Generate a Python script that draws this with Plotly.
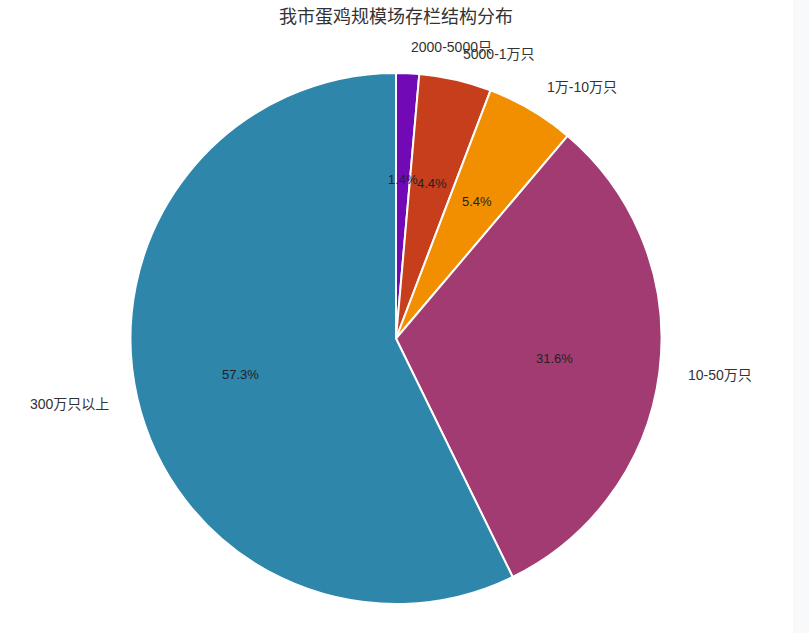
import math
import plotly.graph_objects as go

# Layer-farm stock structure (share of total, %), listed clockwise from 12 o'clock
labels = ["2000-5000只", "5000-1万只", "1万-10万只", "10-50万只", "300万只以上"]
shares = [1.4, 4.4, 5.4, 31.6, 57.3]
colors = ["#7209B7", "#C73E1D", "#F18F01", "#A23B72", "#2E86AB"]
title_text = "我市蛋鸡规模场存栏结构分布"

W, H = 809, 633
CX, CY, R = 396.0, 338.5, 265.5   # pie centre / radius in pixels

FONT = "Liberation Sans, Arial, Noto Sans CJK SC, sans-serif"

fig = go.Figure()
fig.add_trace(go.Pie(
    labels=labels,
    values=shares,
    sort=False,
    direction="clockwise",
    rotation=0,
    marker=dict(colors=colors, line=dict(color="#ffffff", width=2)),
    textinfo="none",
    hoverinfo="label+value",
    showlegend=False,
    domain=dict(x=[(CX - R) / W, (CX + R) / W],
                y=[1 - (CY + R) / H, 1 - (CY - R) / H]),
))

# Percent text inside each slice and category label outside, placed at the
# slice's mid-angle (clockwise from 12 o'clock).
annotations = []
total = sum(shares)
cum = 0.0
for lab, v in zip(labels, shares):
    mid = (cum + v / 2) / total
    cum += v
    a = 2 * math.pi * mid
    dx, dy = math.sin(a), math.cos(a)
    r_in, r_out = 0.6 * R, 1.1 * R
    annotations.append(dict(
        x=(CX + r_in * dx) / W, y=1 - (CY - r_in * dy) / H,
        xref="paper", yref="paper", showarrow=False,
        text=f"{v:.1f}%", xanchor="center", yanchor="middle",
        font=dict(family=FONT, size=13, color="#222222"),
    ))
    annotations.append(dict(
        x=(CX + r_out * dx) / W, y=1 - (CY - r_out * dy) / H,
        xref="paper", yref="paper", showarrow=False,
        text=lab, xanchor="left" if dx >= 0 else "right", yanchor="middle",
        font=dict(family=FONT, size=14, color="#333333"),
    ))

fig.update_layout(
    width=W, height=H,
    margin=dict(l=0, r=0, t=0, b=0),
    paper_bgcolor="#ffffff",
    plot_bgcolor="#ffffff",
    title=dict(text=title_text, x=CX / W, xanchor="center",
               y=1 - 17 / H, yanchor="middle", yref="container",
               font=dict(family=FONT, size=18, color="#333333")),
    annotations=annotations,
    shapes=[dict(type="rect", xref="paper", yref="paper",
                 x0=793 / W, x1=1.0, y0=0, y1=1,
                 fillcolor="#f8f9fb", line=dict(width=0), layer="below")],
)

fig.write_html("out.html")
